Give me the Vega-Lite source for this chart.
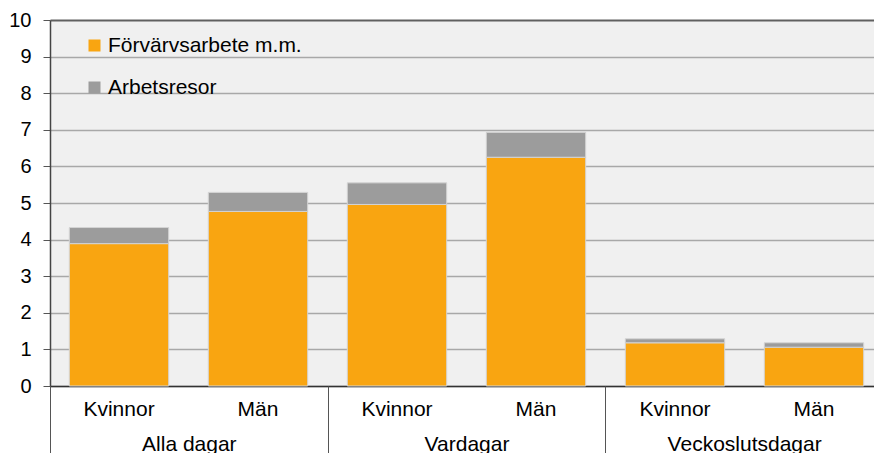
{
  "$schema": "https://vega.github.io/schema/vega-lite/v6.json",
  "width": 824,
  "height": 366,
  "autosize": {"type": "none"},
  "padding": {"left": 50, "top": 20, "right": 0, "bottom": 67},
  "background": "white",
  "config": {
    "font": "Liberation Sans",
    "view": {"fill": "#f0f0f0", "stroke": null},
    "axis": {"labelFont": "Liberation Sans", "labelColor": "#000000", "labelFontSize": 21}
  },
  "data": {
    "values": [
      {"group": "Alla dagar", "id": "Alla dagar|Kvinnor", "type": "Förvärvsarbete m.m.", "value": 3.89},
      {"group": "Alla dagar", "id": "Alla dagar|Kvinnor", "type": "Arbetsresor", "value": 0.44},
      {"group": "Alla dagar", "id": "Alla dagar|Män", "type": "Förvärvsarbete m.m.", "value": 4.77},
      {"group": "Alla dagar", "id": "Alla dagar|Män", "type": "Arbetsresor", "value": 0.52},
      {"group": "Vardagar", "id": "Vardagar|Kvinnor", "type": "Förvärvsarbete m.m.", "value": 4.96},
      {"group": "Vardagar", "id": "Vardagar|Kvinnor", "type": "Arbetsresor", "value": 0.59},
      {"group": "Vardagar", "id": "Vardagar|Män", "type": "Förvärvsarbete m.m.", "value": 6.25},
      {"group": "Vardagar", "id": "Vardagar|Män", "type": "Arbetsresor", "value": 0.68},
      {"group": "Veckoslutsdagar", "id": "Veckoslutsdagar|Kvinnor", "type": "Förvärvsarbete m.m.", "value": 1.18},
      {"group": "Veckoslutsdagar", "id": "Veckoslutsdagar|Kvinnor", "type": "Arbetsresor", "value": 0.11},
      {"group": "Veckoslutsdagar", "id": "Veckoslutsdagar|Män", "type": "Förvärvsarbete m.m.", "value": 1.06},
      {"group": "Veckoslutsdagar", "id": "Veckoslutsdagar|Män", "type": "Arbetsresor", "value": 0.12}
    ]
  },
  "layer": [
    {
      "mark": {"type": "bar", "stroke": "#d4d4d4", "strokeWidth": 1},
      "encoding": {
        "x": {
          "field": "id",
          "type": "nominal",
          "sort": null,
          "scale": {"range": [0, 833], "paddingInner": 0.285, "paddingOuter": 0.139},
          "axis": {
            "orient": "bottom",
            "title": null,
            "labelAngle": 0,
            "labelExpr": "split(datum.label, '|')[1]",
            "ticks": false,
            "domain": true,
            "domainColor": "#333333",
            "domainWidth": 1.5,
            "labelPadding": 12,
            "grid": false
          }
        },
        "y": {
          "field": "value",
          "type": "quantitative",
          "stack": "zero",
          "scale": {"domain": [0, 10], "nice": false},
          "axis": {
            "title": null,
            "values": [0, 1, 2, 3, 4, 5, 6, 7, 8, 9, 10],
            "labelFontSize": 20,
            "domainColor": "#444444",
            "domainWidth": 1.5,
            "tickColor": "#555555",
            "tickSize": 7,
            "labelPadding": 12,
            "grid": true,
            "gridColor": {"condition": {"test": "datum.value == 10", "value": "#606060"}, "value": "#a8a8a8"},
            "gridWidth": {"condition": {"test": "datum.value == 10", "value": 2}, "value": 1.5}
          }
        },
        "color": {
          "field": "type",
          "type": "nominal",
          "scale": {"domain": ["Förvärvsarbete m.m.", "Arbetsresor"], "range": ["#f9a511", "#9c9c9c"]},
          "legend": {
            "title": null,
            "orient": "none",
            "legendX": 34,
            "legendY": 15,
            "symbolType": "square",
            "symbolSize": 144,
            "symbolStrokeWidth": 0,
            "labelFontSize": 21,
            "labelFont": "Liberation Sans",
            "labelColor": "#000000",
            "labelOffset": 3,
            "labelLimit": 400,
            "rowPadding": 20,
            "padding": 0
          }
        },
        "order": {"field": "type", "sort": "descending"}
      }
    },
    {
      "mark": {"type": "point", "opacity": 0},
      "encoding": {
        "x": {
          "field": "group",
          "type": "nominal",
          "sort": null,
          "scale": {"range": [0, 833], "paddingInner": 0, "paddingOuter": 0},
          "axis": {
            "orient": "bottom",
            "title": null,
            "labelAngle": 0,
            "domain": false,
            "ticks": true,
            "tickBand": "extent",
            "tickSize": 67,
            "tickColor": "#555555",
            "tickWidth": 1,
            "labelPadding": -20,
            "grid": false
          }
        }
      }
    }
  ],
  "resolve": {"scale": {"x": "independent"}, "axis": {"x": "independent"}}
}
